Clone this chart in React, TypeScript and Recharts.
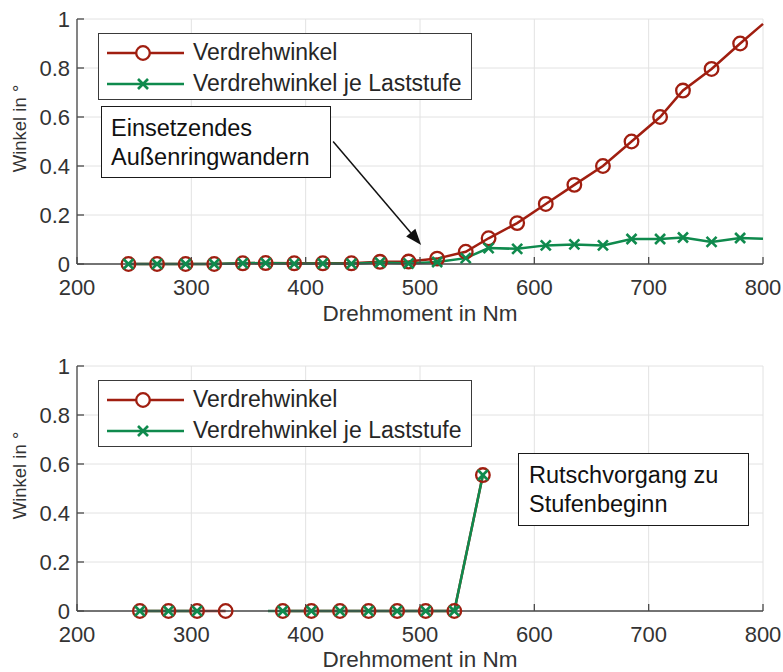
import React from 'react';
import { LineChart, Line, XAxis, YAxis, CartesianGrid, Legend, ReferenceLine } from 'recharts';

const FONT = '"Liberation Sans", Arial, Helvetica, sans-serif';
const RED = '#a01e10';
const GREEN = '#0f8a4d';
const AXIS = '#4a4a4a';
const TEXT = '#333333';

const xTicks = [200, 300, 400, 500, 600, 700, 800];
const yTicks = [0, 0.2, 0.4, 0.6, 0.8, 1];
const seriesNames = ['Verdrehwinkel', 'Verdrehwinkel je Laststufe'];

// upper plot: continuous loading
const torqueTop = [245, 270, 295, 320, 345, 365, 390, 415, 440, 465, 490, 515, 540, 560, 585, 610, 635, 660, 685, 710, 730, 755, 780, 800];
const angleTop = [0, 0, 0, 0, 0.003, 0.004, 0.003, 0.003, 0.003, 0.009, 0.01, 0.022, 0.05, 0.105, 0.167, 0.245, 0.323, 0.4, 0.5, 0.6, 0.708, 0.796, 0.9, 0.98];
const stepAngleTop = [0, 0, 0, 0, 0.003, 0.004, 0.001, 0.002, 0.001, 0.006, 0.002, 0.008, 0.024, 0.065, 0.062, 0.076, 0.08, 0.076, 0.102, 0.102, 0.108, 0.09, 0.106, 0.103];
const unmarkedTop = [800]; // line leaves the axes here

// lower plot: slip at the start of a step
const torqueBottom = [255, 280, 305, 330, 367, 380, 405, 430, 455, 480, 505, 530, 555];
const angleBottom = [0, 0, 0, 0, null, 0, 0, 0, 0, 0, 0, 0, 0.555];
const stepAngleBottom = [0, 0, 0, null, 0, 0, 0, 0, 0, 0, 0, 0, 0.555];
const unmarkedBottom = [367];

const arrowTop = [{ x: 424, y: 0.5 }, { x: 501, y: 0.078 }];

const buildRows = (torque: number[], angle: (number | null)[], step: (number | null)[], unmarked: number[]) =>
  torque.map((t, i) => ({ torque: t, angle: angle[i], step: step[i], marked: !unmarked.includes(t) }));

const topRows = buildRows(torqueTop, angleTop, stepAngleTop, unmarkedTop);
const bottomRows = buildRows(torqueBottom, angleBottom, stepAngleBottom, unmarkedBottom);

const circleDot = (props: any) => {
  const { cx, cy, payload, index } = props;
  if (cx == null || cy == null || isNaN(cy) || !payload?.marked) return <g key={`c${index}`} />;
  return <circle key={`c${index}`} cx={cx} cy={cy} r={6.8} fill="none" stroke={RED} strokeWidth={2.3} />;
};

const crossDot = (props: any) => {
  const { cx, cy, payload, index } = props;
  if (cx == null || cy == null || isNaN(cy) || !payload?.marked) return <g key={`x${index}`} />;
  const s = 5;
  return (
    <g key={`x${index}`} stroke={GREEN} strokeWidth={2.6}>
      <line x1={cx - s} y1={cy - s} x2={cx + s} y2={cy + s} />
      <line x1={cx - s} y1={cy + s} x2={cx + s} y2={cy - s} />
    </g>
  );
};

const LegendBox = () => (
  <div
    style={{
      width: 374,
      height: 67,
      boxSizing: 'border-box',
      border: '1.5px solid #3a3a3a',
      background: '#fff',
      fontFamily: FONT,
      fontSize: 23,
      color: '#262626',
      paddingTop: 3,
    }}
  >
    {seriesNames.map((name, i) => (
      <div key={name} style={{ display: 'flex', alignItems: 'center', height: 31 }}>
        <svg width={77} height={20} style={{ marginLeft: 8 }}>
          <line x1={0} x2={77} y1={10} y2={10} stroke={i === 0 ? RED : GREEN} strokeWidth={2.5} />
          {i === 0 ? (
            <circle cx={36} cy={10} r={6.8} fill="#fff" stroke={RED} strokeWidth={2.3} />
          ) : (
            <g stroke={GREEN} strokeWidth={2.6}>
              <line x1={31} y1={5} x2={41} y2={15} />
              <line x1={31} y1={15} x2={41} y2={5} />
            </g>
          )}
        </svg>
        <span style={{ marginLeft: 9, whiteSpace: 'nowrap' }}>{name}</span>
      </div>
    ))}
  </div>
);

const ArrowShape = (props: any) => {
  const { x1, y1, x2, y2 } = props;
  if ([x1, y1, x2, y2].some((v) => v == null)) return <g />;
  const ang = Math.atan2(y2 - y1, x2 - x1);
  const len = 16;
  const half = 6;
  const bx = x2 - len * Math.cos(ang);
  const by = y2 - len * Math.sin(ang);
  const px = -Math.sin(ang) * half;
  const py = Math.cos(ang) * half;
  return (
    <g>
      <line x1={x1} y1={y1} x2={bx} y2={by} stroke="#111" strokeWidth={1.5} />
      <polygon points={`${x2},${y2} ${bx + px},${by + py} ${bx - px},${by - py}`} fill="#111" />
    </g>
  );
};

const noteStyle: React.CSSProperties = {
  position: 'absolute',
  boxSizing: 'border-box',
  border: '1.5px solid #1a1a1a',
  background: '#fff',
  fontFamily: FONT,
  fontSize: 23.5,
  lineHeight: '28.5px',
  color: '#111',
  paddingTop: 7,
  whiteSpace: 'nowrap',
};

interface PanelProps {
  rows: any[];
  top: number;
  note: string[];
  noteBox: { left: number; width: number; height: number; pad: number };
  arrow?: { x: number; y: number }[];
  labelDrop: number;
}

const Panel = ({ rows, top, note, noteBox, arrow, labelDrop }: PanelProps) => (
  <div style={{ position: 'absolute', left: 0, top, width: 783, height: 325 }}>
    <LineChart width={783} height={325} data={rows} margin={{ top: 19, right: 20, bottom: 0, left: 17 }}>
      <CartesianGrid stroke="#e2e2e2" strokeWidth={1} />
      <XAxis
        dataKey="torque"
        type="number"
        domain={[200, 800]}
        ticks={xTicks}
        interval={0}
        height={61}
        stroke={AXIS}
        strokeWidth={1.3}
        tickSize={-7}
        tickMargin={22}
        tick={{ fill: TEXT, fontSize: 22, fontFamily: FONT }}
        label={{
          content: ({ viewBox }: any) => (
            <text
              x={viewBox.x + viewBox.width / 2}
              y={viewBox.y + labelDrop}
              textAnchor="middle"
              fill={TEXT}
              fontSize={22.5}
              fontFamily={FONT}
            >
              Drehmoment in Nm
            </text>
          ),
        }}
      />
      <XAxis
        xAxisId="top"
        orientation="top"
        dataKey="torque"
        type="number"
        domain={[200, 800]}
        ticks={xTicks}
        interval={0}
        height={0}
        stroke={AXIS}
        strokeWidth={1.3}
        tickSize={-7}
        tick={false}
      />
      <YAxis
        type="number"
        domain={[0, 1]}
        ticks={yTicks}
        interval={0}
        width={60}
        stroke={AXIS}
        strokeWidth={1.3}
        tickSize={-7}
        tickMargin={14}
        tickFormatter={(v: number) => String(v)}
        tick={{ fill: TEXT, fontSize: 22, fontFamily: FONT }}
        label={{
          content: ({ viewBox }: any) => {
            const x = 26;
            const y = viewBox.y + viewBox.height / 2 - 13;
            return (
              <text
                x={x}
                y={y}
                transform={`rotate(-90 ${x} ${y})`}
                textAnchor="middle"
                fill={TEXT}
                fontSize={18.5}
                fontFamily={FONT}
              >
                Winkel in °
              </text>
            );
          },
        }}
      />
      <YAxis
        yAxisId="right"
        orientation="right"
        type="number"
        domain={[0, 1]}
        ticks={yTicks}
        interval={0}
        width={0}
        stroke={AXIS}
        strokeWidth={1.3}
        tickSize={-7}
        tick={false}
      />
      {arrow && <ReferenceLine segment={arrow} shape={ArrowShape} ifOverflow="visible" />}
      <Line
        dataKey="angle"
        name={seriesNames[0]}
        stroke={RED}
        strokeWidth={2.5}
        dot={circleDot}
        activeDot={false}
        isAnimationActive={false}
      />
      <Line
        dataKey="step"
        name={seriesNames[1]}
        stroke={GREEN}
        strokeWidth={2.5}
        dot={crossDot}
        activeDot={false}
        isAnimationActive={false}
      />
      <Legend
        layout="vertical"
        align="center"
        verticalAlign="middle"
        wrapperStyle={{ left: 98, top: 33, width: 374, height: 67 }}
        content={() => <LegendBox />}
      />
    </LineChart>
    <div style={{ ...noteStyle, left: noteBox.left, top: 106, width: noteBox.width, height: noteBox.height, paddingLeft: noteBox.pad }}>
      {note.map((l) => (
        <div key={l}>{l}</div>
      ))}
    </div>
  </div>
);

export default function App() {
  return (
    <div style={{ position: 'absolute', left: 0, top: 0, width: 783, height: 672, background: '#fff', overflow: 'hidden' }}>
      <Panel
        rows={topRows}
        top={0}
        note={['Einsetzendes', 'Außenringwandern']}
        noteBox={{ left: 101, width: 230, height: 72, pad: 9 }}
        arrow={arrowTop}
        labelDrop={57}
      />
      <Panel
        rows={bottomRows}
        top={347}
        note={['Rutschvorgang zu', 'Stufenbeginn']}
        noteBox={{ left: 518, width: 231, height: 73, pad: 10 }}
        labelDrop={56}
      />
    </div>
  );
}
